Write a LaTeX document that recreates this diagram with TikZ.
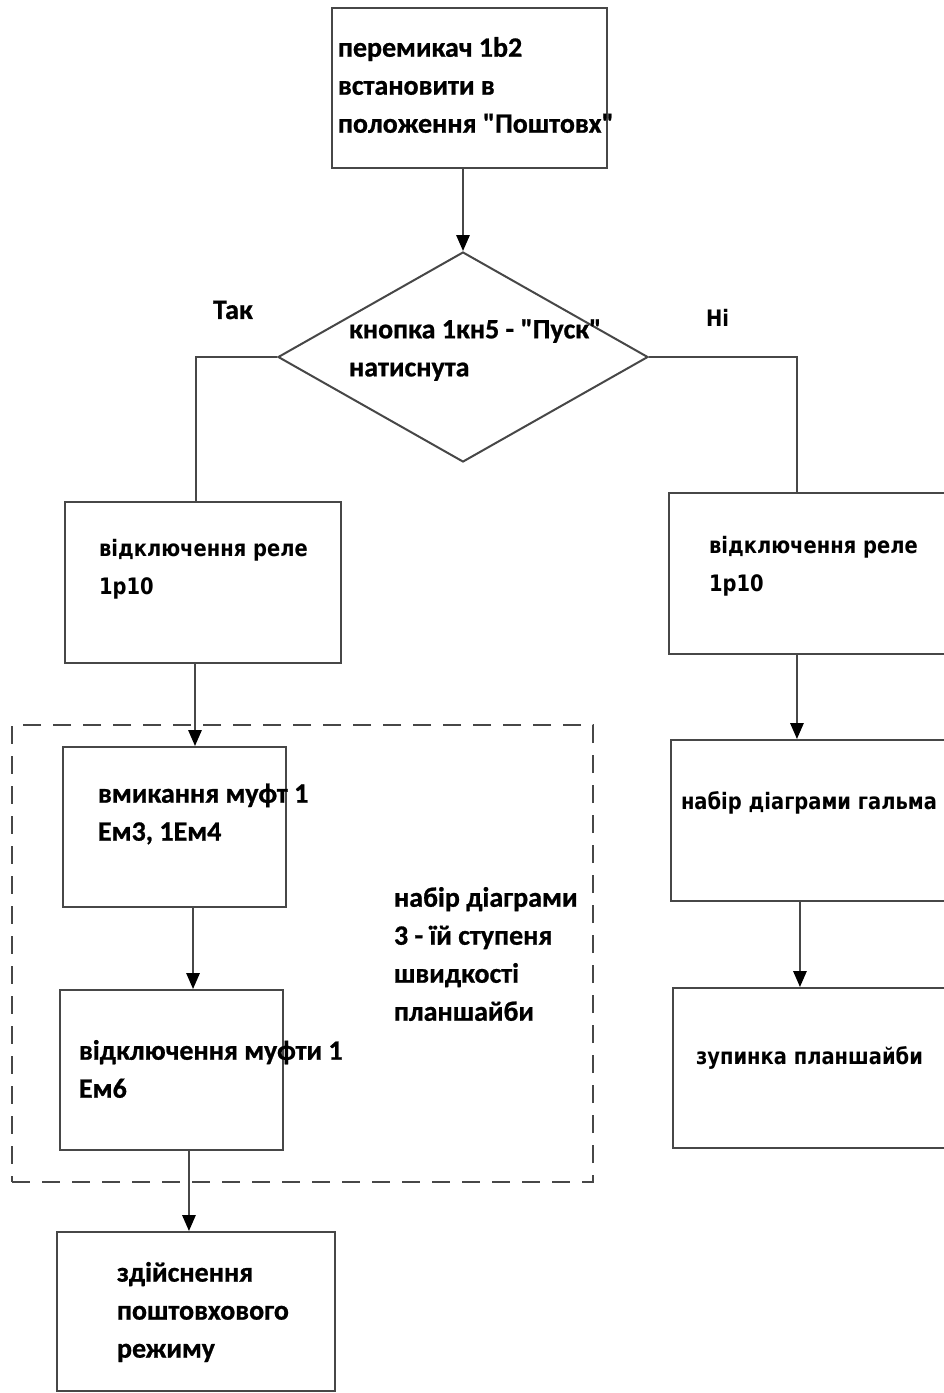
\documentclass[tikz,border=0pt]{standalone}
\usepackage{fontspec}
\setmainfont{Carlito}[Ligatures=TeXOff,FakeBold=0.8]
\newfontfamily\vfont{DejaVu Sans}[FakeStretch=0.86,Ligatures=TeXOff]
\usetikzlibrary{shapes.geometric,arrows.meta,calc}
\begin{document}
\begin{tikzpicture}[x=0.75pt,y=-0.75pt,
  line width=1.5pt,
  box/.style={draw=black!72,rectangle,inner sep=0pt},
  cal/.style={font=\fontsize{21}{28.5}\selectfont\bfseries,align=left,anchor=west,inner sep=0pt,text=black},
  ver/.style={font=\vfont\fontsize{17}{28.5}\selectfont\bfseries,align=left,anchor=west,inner sep=0pt,text=black},
  arr/.style={draw=black!72,-{Triangle[width=10pt,length=12pt,fill=black,color=black]}},
  ln/.style={draw=black!72}]
\useasboundingbox (0,0) rectangle (944,1393);
\clip (0,0) rectangle (944,1393);
% boxes
\node[box,minimum width=206.25pt,minimum height=120pt] (top) at (469.5,88) {};
\node[draw=black!72,diamond,minimum width=277.5pt,minimum height=157.5pt,inner sep=0pt] (dia) at (463,357) {};
\node[box,minimum width=207pt,minimum height=120.75pt] (l1) at (203,582.5) {};
\node[box,minimum width=210.75pt,minimum height=120.75pt] (r1) at (809.5,573.5) {};
\node[box,minimum width=167.25pt,minimum height=120pt] (b2) at (174.5,827) {};
\node[box,minimum width=167.25pt,minimum height=120pt] (b3) at (171.5,1070) {};
\node[box,minimum width=208.5pt,minimum height=119.25pt] (b4) at (196,1311.5) {};
\node[box,minimum width=209.25pt,minimum height=120.75pt] (r2) at (810.5,820.5) {};
\node[box,minimum width=207.75pt,minimum height=120pt] (r3) at (811.5,1068) {};
\node[draw=black!72,line width=1.4pt,dash pattern=on 13.5pt off 9pt,rectangle,minimum width=435.75pt,minimum height=342.75pt,inner sep=0pt] (grp) at (302.5,953.5) {};
% texts
\node[cal] (ttop) at (337,85) {перемикач 1b2\\встановити в\\положення "Поштовх"};
\node[cal] (tdia) at (348,350) {кнопка 1кн5 - "Пуск"\\натиснута};
\node[cal] (tyes) at (212,310) {Так};
\node[ver] (tno) at (705,318) {Ні};
\node[ver] (tl1) at (98,569) {відключення реле\\1р10};
\node[ver] (tr1) at (708,566) {відключення реле\\1р10};
\node[cal] (tb2) at (97,814) {вмикання муфт 1\\Ем3, 1Ем4};
\node[cal] (tb3) at (78,1069) {відключення муфти 1\\Ем6};
\node[cal] (tgrp) at (393,954) {набір діаграми\\3 - їй ступеня\\швидкості\\планшайби};
\node[cal] (tb4) at (116,1312) {здійснення\\поштовхового\\режиму};
\node[ver] (tr2) at (680,803) {набір діаграми гальма};
\node[ver] (tr3) at (695,1058) {зупинка планшайби};
% connectors
\draw[arr] (dia.north |- top.south) -- (dia.north);
\draw[ln] (dia.west) -| ([xshift=-5.25pt]l1.north);
\draw[ln] (dia.east) -| ([xshift=-9.4pt]r1.north);
\draw[arr] ([xshift=-6pt]l1.south) -- ([xshift=-6pt]l1.south |- b2.north);
\draw[arr] ([xshift=13.9pt]b2.south) -- ([xshift=13.9pt]b2.south |- b3.north);
\draw[arr] ([xshift=13.1pt]b3.south) -- ([xshift=13.1pt]b3.south |- b4.north);
\draw[arr] ([xshift=-9.4pt]r1.south) -- ([xshift=-9.4pt]r1.south |- r2.north);
\draw[arr] ([xshift=-7.9pt]r2.south) -- ([xshift=-7.9pt]r2.south |- r3.north);
\end{tikzpicture}
\end{document}
